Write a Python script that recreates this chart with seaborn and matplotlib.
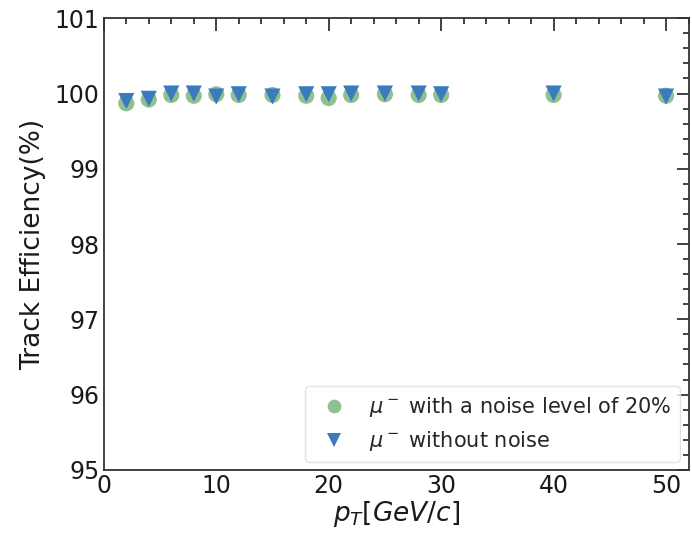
import seaborn as sns
import matplotlib.pyplot as plt
import pandas as pd
from matplotlib.ticker import MultipleLocator

# transverse momentum points (GeV/c)
pt = [2, 4, 6, 8, 10, 12, 15, 18, 20, 22, 25, 28, 30, 40, 50]

# efficiency with 20% noise
eff_noise = [99.87, 99.92, 99.98, 99.97, 99.99, 99.98, 99.98, 99.97, 99.94,
             99.98, 99.99, 99.98, 99.98, 99.98, 99.97]
# efficiency without noise
eff_clean = [99.90, 99.93, 100.0, 100.0, 99.96, 99.99, 99.96, 99.99, 99.99,
             100.0, 100.0, 100.0, 99.99, 100.0, 99.96]

labels = [r'$\mu^-$ with a noise level of 20%', r'$\mu^-$ without noise']

df = pd.DataFrame({
    'pt': pt + pt,
    'eff': eff_noise + eff_clean,
    'sample': [labels[0]] * len(pt) + [labels[1]] * len(pt),
})

sns.set_style('white')
plt.rcParams['font.family'] = ['DejaVu Sans']

fig, ax = plt.subplots(figsize=(6.92, 5.37), dpi=100)
fig.subplots_adjust(left=0.150, right=0.995, top=0.966, bottom=0.125)

sns.scatterplot(data=df, x='pt', y='eff', hue='sample', style='sample',
                markers={labels[0]: 'o', labels[1]: 'v'},
                palette={labels[0]: '#8fc08f', labels[1]: '#3a7bbd'},
                s=135, linewidth=0, ax=ax)

ax.set_xlim(0, 52)
ax.set_ylim(95, 101)
ax.xaxis.set_major_locator(MultipleLocator(10))
ax.xaxis.set_minor_locator(MultipleLocator(2))
ax.yaxis.set_major_locator(MultipleLocator(1))
ax.yaxis.set_minor_locator(MultipleLocator(0.2))
ax.tick_params(which='both', direction='in', top=True, right=True, labelsize=17,
               color='#333333', width=1.3, labelcolor='#1a1a1a')
ax.tick_params(which='major', length=9, pad=3)
ax.tick_params(which='minor', length=4.5)
for sp in ax.spines.values():
    sp.set_color('#333333')
    sp.set_linewidth(1.3)

ax.set_xlabel(r'$p_T[GeV/c]$', fontsize=19, labelpad=1, color='#1a1a1a')
ax.set_ylabel('Track Efficiency(%)', fontsize=19, labelpad=6, color='#1a1a1a')

leg = ax.legend(loc='lower right', fontsize=15, title=None, markerscale=0.85,
                frameon=True, borderaxespad=0.4, handletextpad=0.7)
leg.get_frame().set_edgecolor('#dddddd')

fig.savefig('out.png', dpi=100)
